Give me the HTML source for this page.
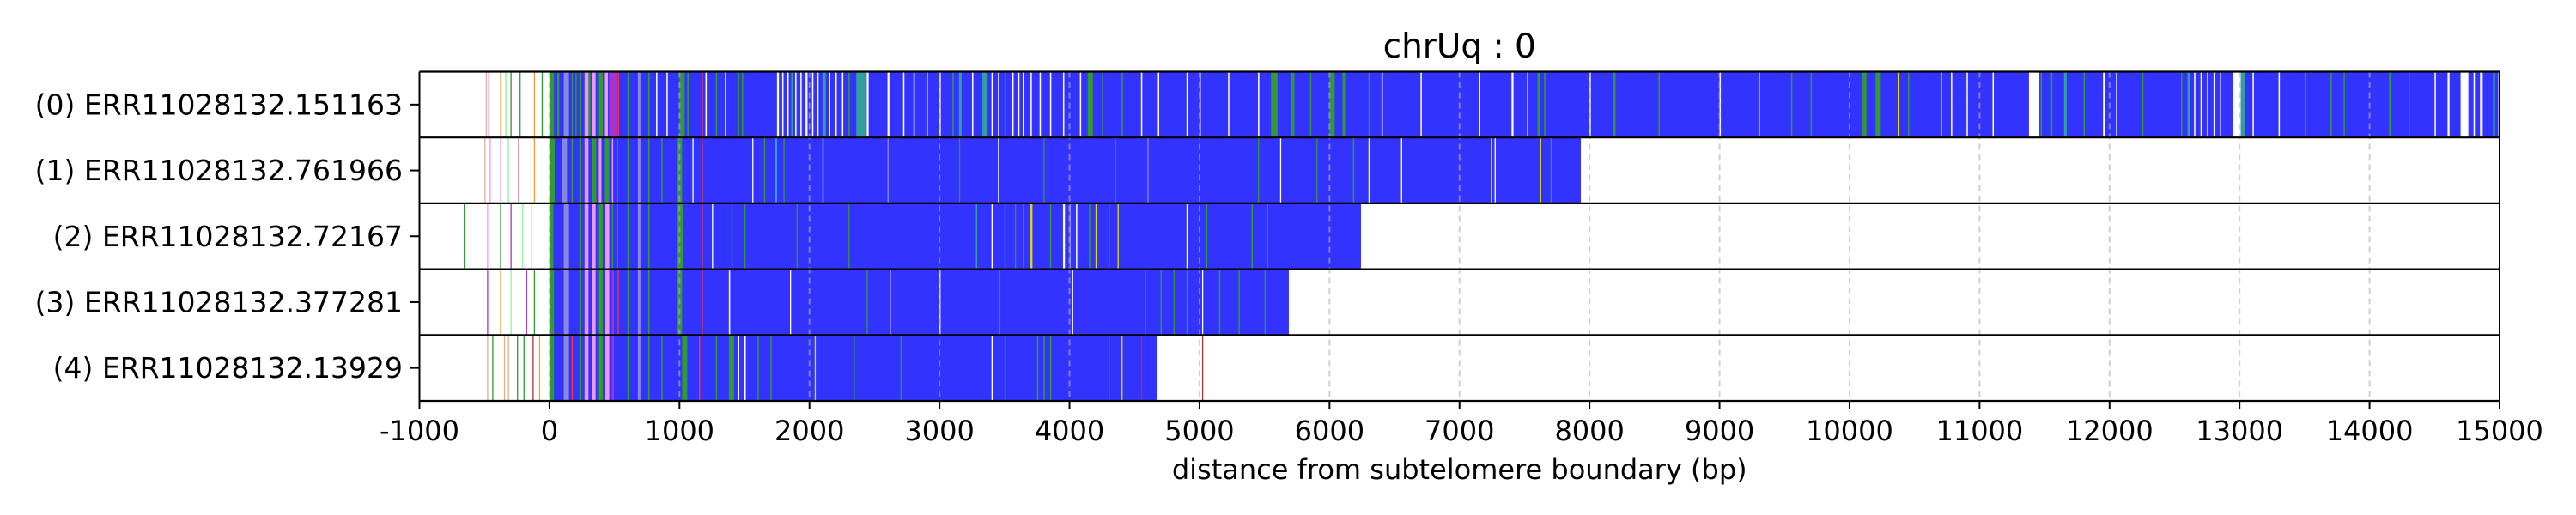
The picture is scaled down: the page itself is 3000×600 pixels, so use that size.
<!DOCTYPE html>
<html><head><meta charset="utf-8"><style>
html,body{margin:0;padding:0;background:#fff;}
svg{display:block;font-family:"DejaVu Sans","Liberation Sans",sans-serif;}
</style></head>
<body>
<svg id="chart" width="3000" height="600" viewBox="0 0 3000 600" xmlns="http://www.w3.org/2000/svg"></svg>
<script>
const rowNames = ["(0) ERR11028132.151163","(1) ERR11028132.761966","(2) ERR11028132.72167","(3) ERR11028132.377281","(4) ERR11028132.13929"];
const rowEnds = [14990, 7933, 6242, 5687, 4677];
const xTicks = [-1000,0,1000,2000,3000,4000,5000,6000,7000,8000,9000,10000,11000,12000,13000,14000,15000];
const palette = {b:"#3333ff",g:"#339933",lav:"#8888dd",pink:"#ee99ee",purple:"#aa33cc",red:"#ff3333",teal:"#33a0a0",w:"#ffffff",y:"#e0e000",orange:"#ff9933",lg:"#99ee99",tan:"#ddb090",brown:"#aa3333",cyan:"#33dddd"};
const stripes0 = [[-490,6,"tan"],[-470,6,"purple"],[-380,6,"orange"],[-340,6,"lg"],[-300,6,"g"],[-230,6,"g"],[-120,6,"orange"],[-60,6,"g"],
[0,35,"g"],[60,15,"g"],[110,40,"lav"],[170,10,"g"],[200,10,"g"],[230,15,"g"],[270,30,"pink"],[300,15,"g"],[330,25,"pink"],[380,30,"g"],[420,30,"pink"],[460,55,"purple"],[525,10,"red"],[600,10,"g"],[680,20,"lav"],[760,10,"g"],[820,10,"w"],[900,10,"w"],[1000,40,"g"],[1060,10,"g"],
[1170,10,"red"],[1200,10,"w"],[1280,10,"g"],[1350,8,"w"],[1450,10,"g"],[1480,10,"g"],[1750,15,"w"],[1790,10,"w"],[1830,10,"w"],[1860,12,"teal"],[1890,10,"w"],[1930,10,"w"],[1970,15,"w"],[2020,10,"w"],[2060,10,"w"],[2100,25,"teal"],[2150,10,"w"],[2200,10,"w"],[2250,10,"w"],[2300,10,"g"],[2360,70,"teal"],[2440,15,"w"],[2600,15,"w"],[2720,10,"w"],[2800,10,"w"],[2900,10,"w"],[3000,10,"w"],[3100,10,"g"],[3150,20,"teal"],[3250,10,"w"],[3330,40,"teal"],[3400,10,"w"],[3450,10,"w"],[3500,10,"teal"],[3560,10,"w"],[3600,15,"w"],[3640,10,"w"],[3700,10,"w"],[3770,10,"w"],[3850,10,"w"],[3950,10,"w"],[4080,10,"w"],[4140,40,"g"],[4250,10,"g"],[4400,10,"g"],[4550,10,"w"],[4680,10,"w"],[4900,10,"w"],[5000,10,"w"],[5220,10,"w"],[5450,10,"w"],[5550,50,"g"],[5700,30,"g"],[5850,10,"g"],[6000,40,"g"],[6100,20,"g"],[6300,10,"g"],[6400,10,"w"],[6700,10,"w"],[7150,10,"w"],[7400,15,"w"],[7520,10,"w"],[7600,20,"g"],[7650,10,"g"],[8000,10,"w"],[8180,20,"g"],[8530,10,"g"],[9000,10,"w"],[9300,10,"w"],[9550,10,"g"],[9700,10,"g"],[10100,30,"g"],[10200,40,"g"],[10370,10,"y"],[10450,10,"g"],[10700,10,"w"],[10780,10,"w"],[10900,10,"w"],[11100,10,"w"],[11380,80,"w"],[11470,10,"g"],[11550,10,"g"],[11650,20,"teal"],[11800,10,"g"],[11950,15,"w"],[12050,10,"w"],[12250,10,"g"],[12550,10,"g"],[12600,20,"teal"],[12650,10,"w"],[12700,10,"w"],[12750,10,"w"],[12800,10,"w"],[12850,10,"w"],[12950,60,"w"],[13010,30,"teal"],[13100,10,"w"],[13300,10,"w"],[13500,10,"g"],[13700,10,"g"],[13800,10,"g"],[14150,15,"g"],[14300,10,"g"],[14500,10,"w"],[14600,15,"w"],[14700,60,"w"],[14800,10,"w"],[14850,20,"w"],[14950,15,"teal"]];
const stripes1 = [[-500,6,"tan"],[-460,6,"pink"],[-380,6,"pink"],[-320,6,"lg"],[-240,6,"brown"],[-120,6,"orange"],
[0,40,"g"],[100,35,"lav"],[170,10,"g"],[230,15,"g"],[270,30,"pink"],[330,30,"g"],[380,20,"pink"],[420,40,"g"],[480,10,"pink"],[520,8,"red"],[600,10,"g"],[680,20,"lav"],[760,10,"g"],[860,10,"g"],[980,40,"g"],[1100,8,"w"],[1170,10,"red"],[1560,8,"w"],[1650,8,"g"],[1740,8,"cyan"],[1800,8,"g"],[2100,8,"w"],[2600,6,"lav"],[3150,6,"g"],[3450,10,"w"],[3800,6,"g"],[4350,6,"g"],[4600,6,"lav"],[5450,6,"g"],[5620,6,"w"],[5900,6,"g"],[6180,10,"g"],[6300,8,"w"],[6550,8,"w"],[7240,10,"y"],[7270,8,"w"],[7620,8,"y"],[7700,8,"g"]];
const stripes2 = [[-660,6,"g"],[-480,6,"pink"],[-380,6,"g"],[-300,6,"purple"],[-210,6,"lg"],[-140,6,"orange"],
[0,30,"g"],[110,40,"lav"],[230,15,"g"],[270,30,"pink"],[330,25,"pink"],[380,30,"g"],[430,30,"pink"],[480,10,"g"],[520,8,"red"],[600,10,"g"],[680,20,"lav"],[760,10,"g"],[980,50,"g"],[1170,10,"red"],[1250,8,"w"],[1400,6,"g"],[1500,6,"g"],[1900,6,"g"],[2300,6,"g"],[3280,10,"teal"],[3400,6,"w"],[3500,6,"teal"],[3580,6,"g"],[3640,8,"g"],[3700,15,"y"],[3850,10,"g"],[3950,15,"w"],[4000,10,"lav"],[4050,10,"w"],[4150,10,"g"],[4200,8,"y"],[4300,10,"g"],[4370,6,"y"],[4900,10,"w"],[5050,10,"g"],[5400,10,"g"],[5520,8,"g"]];
const stripes3 = [[-480,6,"purple"],[-380,6,"orange"],[-300,6,"lg"],[-180,6,"purple"],[-120,6,"g"],
[0,35,"g"],[110,40,"lav"],[230,15,"g"],[270,30,"pink"],[330,25,"pink"],[380,30,"g"],[430,30,"pink"],[480,15,"purple"],[525,8,"red"],[600,10,"g"],[680,20,"lav"],[760,10,"g"],[980,40,"g"],[1170,10,"red"],[1380,10,"w"],[1850,8,"w"],[2440,8,"g"],[2620,8,"lav"],[3000,8,"w"],[3460,8,"g"],[4020,8,"w"],[4580,8,"g"],[4700,10,"g"],[4800,8,"g"],[4900,10,"g"],[5020,8,"w"],[5150,10,"g"],[5300,10,"g"],[5500,8,"g"]];
const stripes4 = [[-480,6,"tan"],[-440,6,"g"],[-350,6,"tan"],[-320,6,"tan"],[-250,6,"g"],[-200,6,"g"],[-130,6,"brown"],[-80,6,"orange"],
[0,35,"g"],[110,40,"lav"],[170,10,"red"],[230,15,"g"],[270,30,"pink"],[330,25,"pink"],[380,30,"g"],[430,30,"pink"],[480,15,"purple"],[600,10,"g"],[680,20,"lav"],[760,10,"g"],[860,10,"g"],[1020,40,"g"],[1150,10,"red"],[1280,10,"g"],[1380,40,"g"],[1450,10,"w"],[1500,10,"w"],[1600,10,"g"],[1700,10,"g"],[2040,8,"y"],[2340,8,"g"],[2700,10,"g"],[3400,10,"w"],[3500,10,"g"],[3750,10,"g"],[3800,10,"g"],[3850,10,"g"],[4300,10,"g"],[4400,8,"y"],[4550,8,"brown"]];
const extraMarks4 = [[5020,8,"brown"]];
const allStripes = [stripes0, stripes1, stripes2, stripes3, stripes4];

const NS = "http://www.w3.org/2000/svg";
const svg = document.getElementById("chart");
const L = 488.5, R = 2911, T = 83.5, B = 467, xmin = -1000, xmax = 15000;
const rowH = (B - T) / rowNames.length;
const xs = v => L + (v - xmin) / (xmax - xmin) * (R - L);
function mk(tag, attrs, parent) { const e = document.createElementNS(NS, tag); for (const k in attrs) e.setAttribute(k, attrs[k]); (parent || svg).appendChild(e); return e; }

const plot = mk("g", {});


rowNames.forEach((name, i) => {
  const y0 = T + i * rowH;
  const g = mk("g", {}, plot);
  
  
  const base = mk("rect", {x: xs(0), y: y0, width: xs(rowEnds[i]) - xs(0), height: rowH, fill: palette.b}, g);
  
  
  const list = i === 4 ? allStripes[i].concat(extraMarks4) : allStripes[i];
  list.forEach(s => {
    const w = Math.max(1.3, xs(s[0] + s[1]) - xs(s[0]));
    const r = mk("rect", {x: xs(s[0]), y: y0, width: w, height: rowH, fill: palette[s[2]]}, g);
    
    
  });
  const lab = mk("text", {x: 469, y: y0 + rowH / 2 + 11.5, "text-anchor": "end", "font-size": 33, fill: "#000"});
  lab.textContent = name;
  
  
  const tk = mk("line", {x1: 478, x2: L, y1: y0 + rowH / 2, y2: y0 + rowH / 2, stroke: "#000", "stroke-width": 2});
  
  
});
xTicks.forEach(v => {
  if (v === xmin || v === xmax) return;
  const gl = mk("line", {x1: xs(v), x2: xs(v), y1: T, y2: B, stroke: "#b0b0b0", "stroke-opacity": 0.6, "stroke-width": 2, "stroke-dasharray": "7,5"});
  
  
});
for (let i = 0; i <= rowNames.length; i++) {
  const y = T + i * rowH;
  const ln = mk("line", {x1: L, x2: R, y1: y, y2: y, stroke: "#000", "stroke-width": 2.2});
  
  
}
const lb = mk("line", {x1: L, x2: L, y1: T, y2: B, stroke: "#000", "stroke-width": 2});


const rb = mk("line", {x1: R, x2: R, y1: T, y2: B, stroke: "#000", "stroke-width": 2});


xTicks.forEach(v => {
  const t = mk("line", {x1: xs(v), x2: xs(v), y1: B, y2: B + 9, stroke: "#000", "stroke-width": 2});
  
  
  const tx = mk("text", {x: xs(v), y: B + 46, "text-anchor": "middle", "font-size": 32, fill: "#000"});
  tx.textContent = v;
  
  
});
const xl = mk("text", {x: (L + R) / 2, y: 558, "text-anchor": "middle", "font-size": 32, fill: "#000"});
xl.textContent = "distance from subtelomere boundary (bp)";


const title = mk("text", {x: (L + R) / 2, y: 67, "text-anchor": "middle", "font-size": 39, fill: "#000"});
title.textContent = "chrUq : 0";


</script>
</body></html>
